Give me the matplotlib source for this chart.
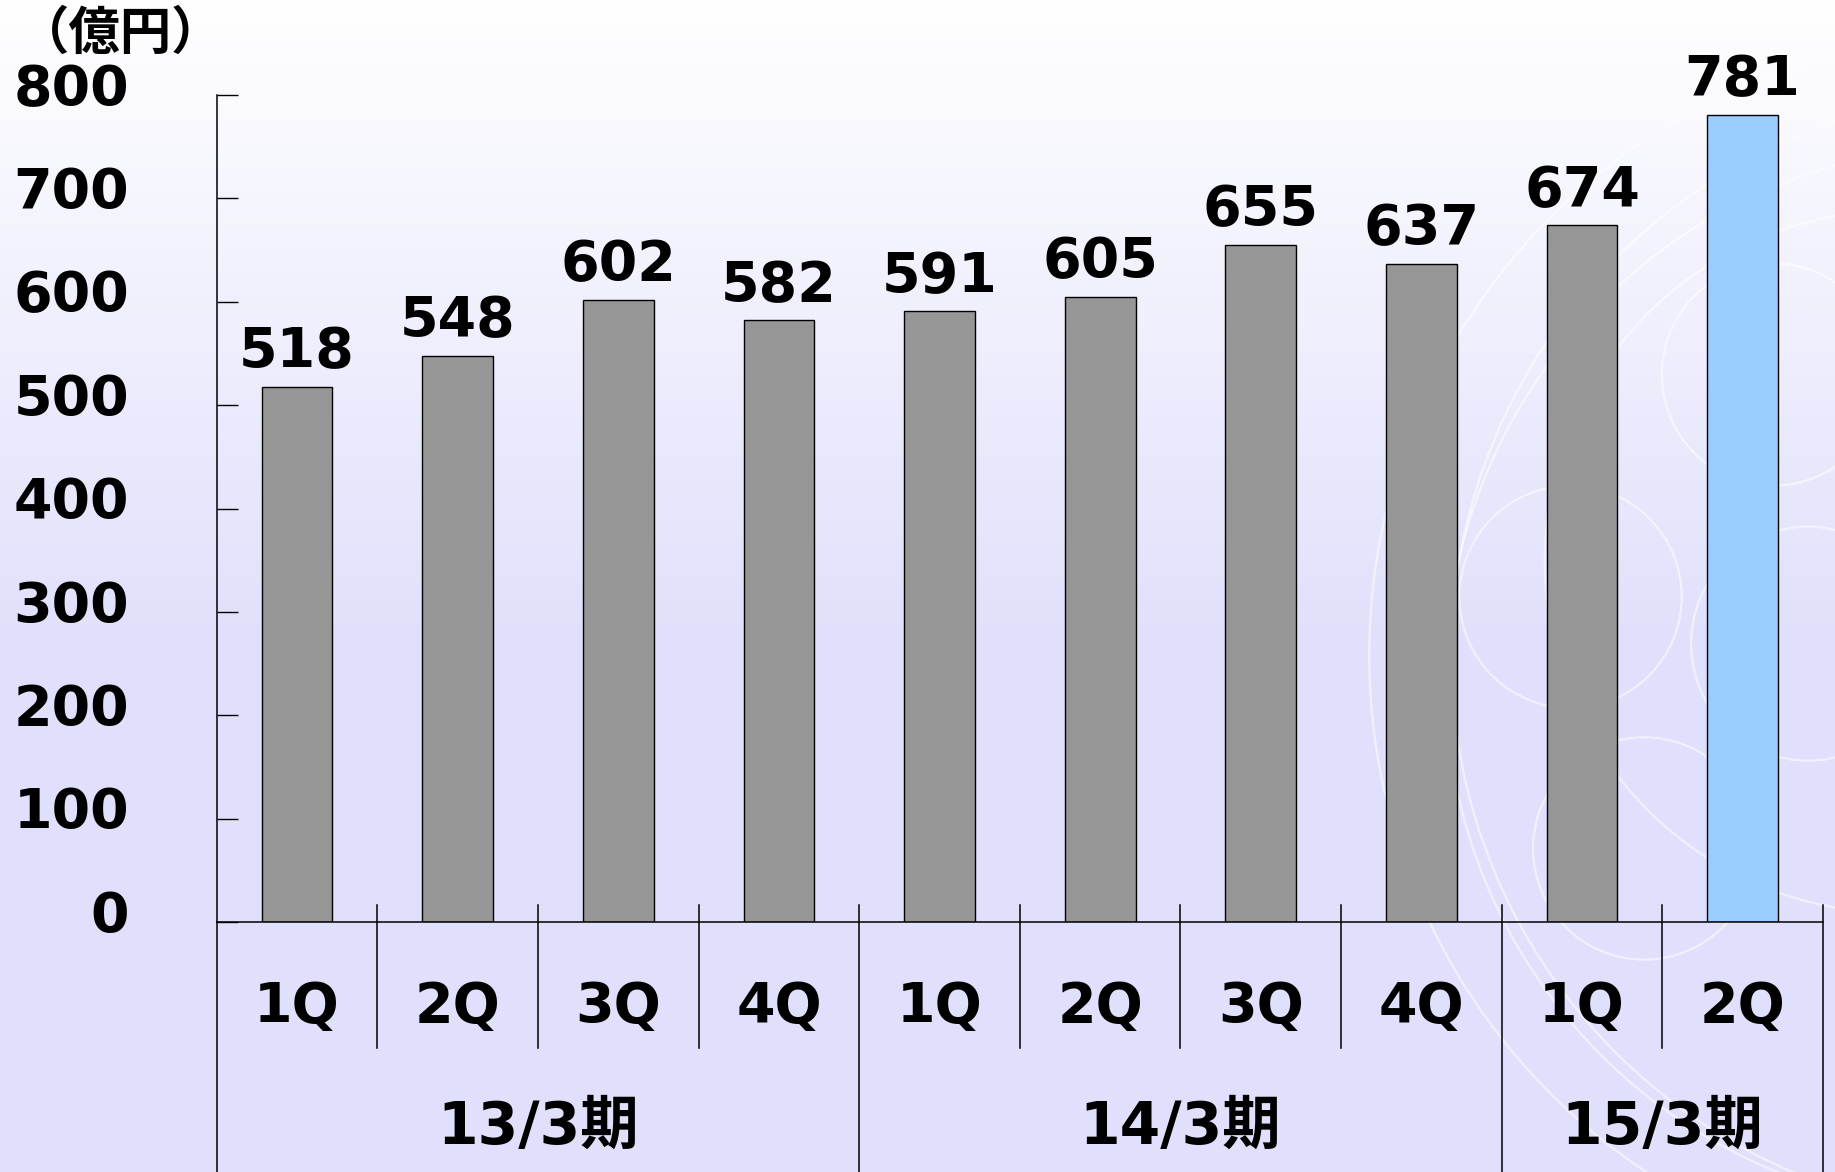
import numpy as np
import matplotlib.pyplot as plt
from matplotlib.patches import Circle
from matplotlib.transforms import blended_transform_factory

plt.rcParams['font.family'] = ['DejaVu Sans', 'Noto Sans CJK JP']
plt.rcParams['font.weight'] = 'bold'

# データ
quarters = ['1Q', '2Q', '3Q', '4Q', '1Q', '2Q', '3Q', '4Q', '1Q', '2Q']
values = [518, 548, 602, 582, 591, 605, 655, 637, 674, 781]
years = ['13/3期', '14/3期', '15/3期']
year_counts = [4, 4, 2]
yticks = [0, 100, 200, 300, 400, 500, 600, 700, 800]
bar_colors = ['#969696'] * 9 + ['#99CCFF']

W, H = 1835, 1172
fig = plt.figure(figsize=(W / 100, H / 100), dpi=100)

# 背景グラデーション
bg = fig.add_axes([0, 0, 1, 1], zorder=0)
t = np.clip(np.linspace(0, 1, H) / 0.55, 0, 1)
c_top = np.array([1.0, 1.0, 1.0])
c_bot = np.array([224, 224, 252]) / 255
grad = c_top[None, :] * (1 - t[:, None]) + c_bot[None, :] * t[:, None]
bg.imshow(grad[:, None, :], aspect='auto', extent=[0, W, H, 0])
bg.set_xlim(0, W)
bg.set_ylim(H, 0)
bg.axis('off')

# 右側の装飾の円
s = W / 1568
for cx, cy, r in [(1342, 510, 95), (1405, 725, 95), (1515, 320, 95),
                  (1545, 550, 100), (1700, 560, 530), (1720, 560, 480),
                  (1690, 580, 455), (1620, 480, 300)]:
    bg.add_patch(Circle((cx * s, cy * s), r * s, fill=False,
                        edgecolor='white', linewidth=1.6, alpha=0.55))

# 棒グラフ
ax = fig.add_axes([216.7 / W, (H - 922) / H, (1823 - 216.7) / W, 827 / H], zorder=1)
ax.patch.set_alpha(0)
x = np.arange(len(values))
ax.bar(x, values, width=0.44, color=bar_colors, edgecolor='black', linewidth=1.0)
ax.set_xlim(-0.5, len(values) - 0.5)
ax.set_ylim(0, 800)
ax.spines['top'].set_visible(False)
ax.spines['right'].set_visible(False)
ax.spines['left'].set_linewidth(1.1)
ax.spines['bottom'].set_linewidth(1.1)
ax.set_xticks([])
ax.set_yticks(yticks)
ax.tick_params(axis='y', direction='in', length=15, width=1.0, labelleft=False)

for v in yticks:
    ax.annotate(str(v), xy=(0, v), xycoords=('axes fraction', 'data'),
                xytext=(-63, -7), textcoords='offset points',
                ha='right', va='baseline', fontsize=40, fontweight='bold',
                annotation_clip=False)

for i, v in enumerate(values):
    ax.annotate(str(v), xy=(i, v), xytext=(0, 14), textcoords='offset points',
                ha='center', va='baseline', fontsize=40, fontweight='bold')

for i, q in enumerate(quarters):
    ax.annotate(q, xy=(i, 0), xytext=(0, -72), textcoords='offset points',
                ha='center', va='baseline', fontsize=40, fontweight='bold',
                annotation_clip=False)

# 区切り線
tr = blended_transform_factory(ax.transData, ax.transAxes)
ax_h = 827
top_y = 17.5 / ax_h
q_bot = -125.5 / ax_h
y_bot = -(H - 922) / ax_h
start = 0
for name, n in zip(years, year_counts):
    left = start - 0.5
    right = start + n - 0.5
    ax.plot([left, left], [top_y if start > 0 else 0, y_bot], color='black',
            lw=1.1, transform=tr, clip_on=False)
    for k in range(1, n):
        xb = start + k - 0.5
        ax.plot([xb, xb], [top_y, q_bot], color='black', lw=1.1,
                transform=tr, clip_on=False)
    ax.annotate(name, xy=((left + right) / 2, 0), xytext=(0, -160),
                textcoords='offset points', ha='center', va='baseline',
                fontsize=42, fontweight='bold', annotation_clip=False)
    start += n
ax.plot([start - 0.5, start - 0.5], [top_y, y_bot], color='black', lw=1.1,
        transform=tr, clip_on=False)

fig.text(121 / W, 1 - 49 / H, '（億円）', ha='center', va='baseline', fontsize=37,
         fontweight='bold', family=['Noto Sans CJK JP', 'DejaVu Sans'])

fig.savefig('out.png', dpi=100)
